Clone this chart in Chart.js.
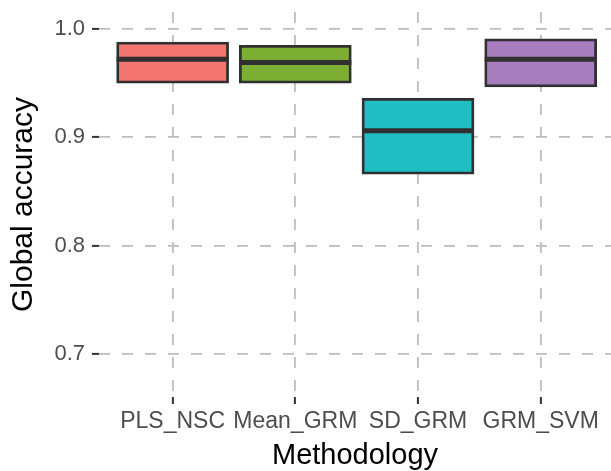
<!DOCTYPE html>
<html>
<head>
<meta charset="utf-8">
<script src="https://cdn.jsdelivr.net/npm/chart.js@4/dist/chart.umd.min.js"></script>
<style>
html,body{margin:0;padding:0;background:#fff;}
#wrap{width:611px;height:471px;position:relative;}
</style>
</head>
<body>
<div id="wrap"><canvas id="c"></canvas></div>
<script>
const categories = ['PLS_NSC', 'Mean_GRM', 'SD_GRM', 'GRM_SVM'];
const lowerHinge = [0.950, 0.950, 0.866, 0.9465];
const upperHinge = [0.988, 0.985, 0.936, 0.991];
const medians = [0.972, 0.969, 0.906, 0.972];
const yTicks = [0.7, 0.8, 0.9, 1.0];
const boxColors = ['#F2756F', '#7CAE33', '#1FBEC5', '#A77DBE'];

const FONT = "'Liberation Sans', Arial, Helvetica, sans-serif";

const boxData = categories.map((c, i) => ({x: i, y: [lowerHinge[i], upperHinge[i]]}));
const medData = categories.map((c, i) => ({x: i, y: medians[i]}));

new Chart(document.getElementById('c'), {
  type: 'bar',
  data: {
    datasets: [
      {
        type: 'bar',
        data: boxData,
        backgroundColor: boxColors,
        borderColor: '#303030',
        borderWidth: 2.8,
        borderSkipped: false,
        barThickness: 112,
        order: 2
      },
      {
        type: 'line',
        data: medData,
        showLine: false,
        pointStyle: 'line',
        pointRadius: 56,
        pointHoverRadius: 56,
        pointBorderWidth: 5,
        pointBorderColor: '#303030',
        pointBackgroundColor: '#303030',
        order: 1
      }
    ]
  },
  options: {
    responsive: true,
    maintainAspectRatio: false,
    animation: false,
    events: [],
    layout: {autoPadding: false, padding: {top: 12, right: 0, left: 0, bottom: 0}},
    plugins: {legend: {display: false}, tooltip: {enabled: false}},
    scales: {
      x: {
        type: 'linear',
        offset: false,
        min: -0.6,
        max: 3.573,
        afterBuildTicks: (s) => { s.ticks = categories.map((c, i) => ({value: i})); },
        afterFit: (s) => { s.height = 74; s.paddingLeft = 0; s.paddingRight = 0; },
        ticks: {
          callback: (v) => categories[v],
          color: '#4D4D4D',
          font: {family: FONT, size: 23, lineHeight: 1},
          padding: 6,
          maxRotation: 0,
          autoSkip: false
        },
        grid: {
          offset: false,
          color: '#BDBDBD',
          lineWidth: 1.8,
          tickLength: 7,
          tickColor: '#333333',
          tickWidth: 2,
          tickBorderDash: []
        },
        border: {display: false, dash: [11, 12]},
        title: {
          display: true,
          text: 'Methodology',
          color: '#000000',
          font: {family: FONT, size: 29, lineHeight: 1},
          padding: {top: 0, bottom: 1}
        }
      },
      y: {
        type: 'linear',
        min: 0.6603,
        max: 1.0157,
        afterBuildTicks: (s) => { s.ticks = yTicks.map(v => ({value: v})); },
        afterFit: (s) => { s.width = 99; s.paddingTop = 0; s.paddingBottom = 0; },
        ticks: {
          callback: (v) => v.toFixed(1),
          color: '#4D4D4D',
          font: {family: FONT, size: 22, lineHeight: 1},
          padding: 7
        },
        grid: {
          color: '#BDBDBD',
          lineWidth: 1.8,
          tickLength: 7,
          tickColor: '#333333',
          tickWidth: 2,
          tickBorderDash: []
        },
        border: {display: false, dash: [11, 12]},
        title: {
          display: true,
          text: 'Global accuracy',
          color: '#000000',
          font: {family: FONT, size: 30, lineHeight: 1},
          padding: {top: 9, bottom: 0}
        }
      }
    }
  }
});
</script>
</body>
</html>
